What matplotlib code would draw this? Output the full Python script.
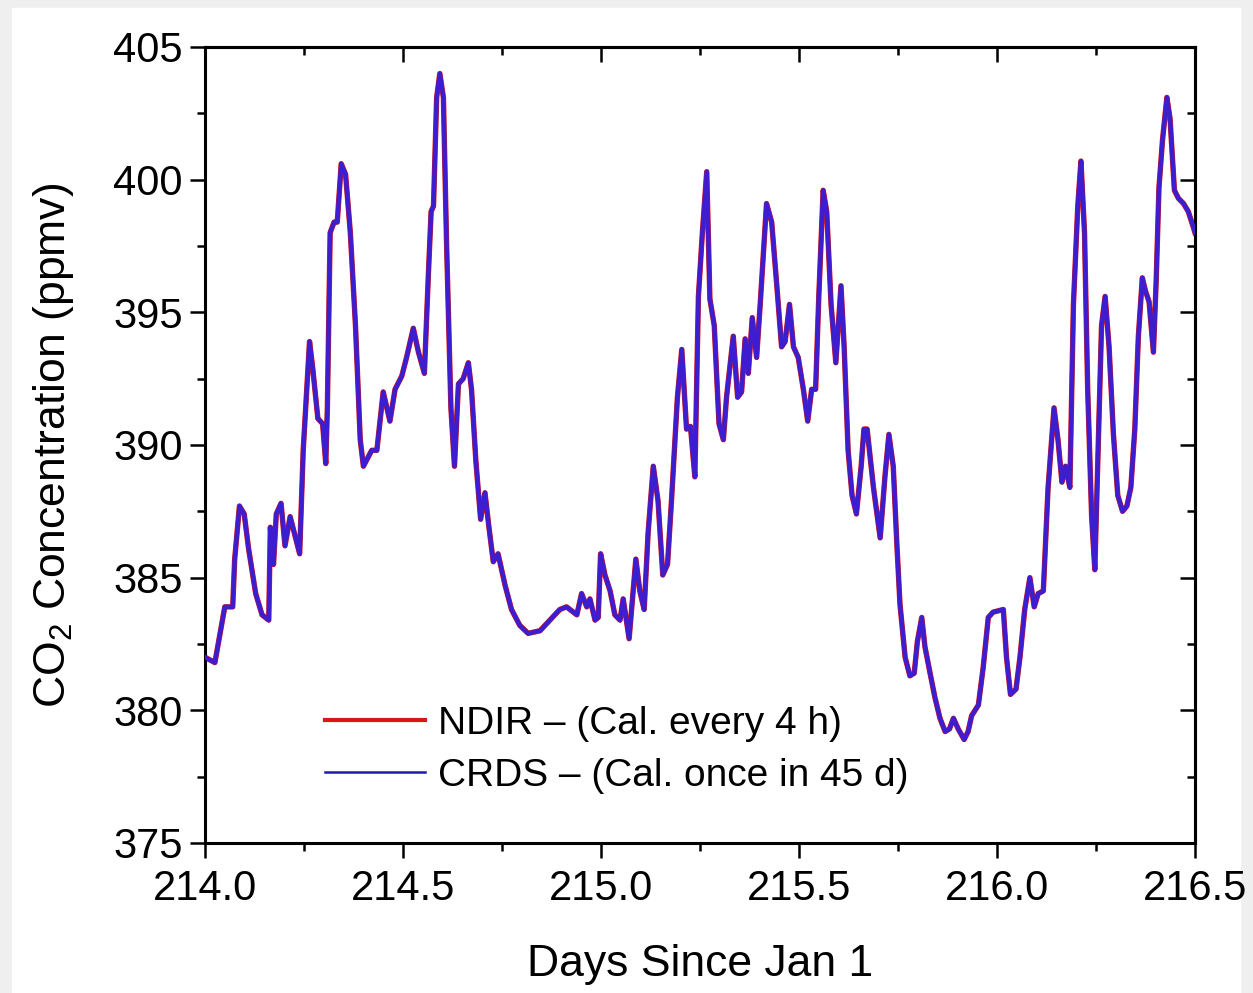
import matplotlib
matplotlib.use("Agg")
import matplotlib.pyplot as plt
from matplotlib.ticker import MultipleLocator, FormatStrFormatter
from matplotlib.patches import Rectangle

# Values (days since Jan 1, CO2 ppmv)
days = [
    214.000, 214.025, 214.050, 214.070, 214.075, 214.087, 214.099, 214.110, 214.128, 214.144,
    214.161, 214.165, 214.173, 214.180, 214.192, 214.202, 214.215, 214.227, 214.239, 214.248,
    214.264, 214.272, 214.285, 214.297, 214.305, 214.309, 214.316, 214.326, 214.334, 214.344,
    214.355, 214.367, 214.380, 214.392, 214.400, 214.421, 214.434, 214.450, 214.467, 214.480,
    214.497, 214.509, 214.526, 214.539, 214.554, 214.564, 214.571, 214.577, 214.585, 214.593,
    214.602, 214.610, 214.621, 214.630, 214.640, 214.652, 214.665, 214.673, 214.684, 214.696,
    214.707, 214.717, 214.728, 214.740, 214.758, 214.774, 214.795, 214.816, 214.846, 214.871,
    214.896, 214.913, 214.939, 214.951, 214.964, 214.972, 214.985, 214.993, 214.999, 215.010,
    215.023, 215.035, 215.048, 215.056, 215.071, 215.088, 215.098, 215.109, 215.119, 215.132,
    215.144, 215.156, 215.168, 215.178, 215.193, 215.204, 215.216, 215.226, 215.237, 215.246,
    215.256, 215.267, 215.275, 215.286, 215.298, 215.309, 215.317, 215.334, 215.345, 215.355,
    215.364, 215.372, 215.382, 215.393, 215.402, 215.418, 215.431, 215.444, 215.456, 215.465,
    215.476, 215.486, 215.498, 215.511, 215.522, 215.532, 215.542, 215.550, 215.561, 215.570,
    215.581, 215.593, 215.606, 215.614, 215.624, 215.634, 215.645, 215.657, 215.664, 215.672,
    215.688, 215.705, 215.717, 215.727, 215.738, 215.747, 215.755, 215.768, 215.780, 215.791,
    215.799, 215.810, 215.818, 215.831, 215.843, 215.856, 215.869, 215.880, 215.890, 215.902,
    215.917, 215.927, 215.936, 215.953, 215.965, 215.978, 215.990, 216.016, 216.024, 216.034,
    216.048, 216.058, 216.070, 216.083, 216.094, 216.104, 216.117, 216.129, 216.138, 216.144,
    216.154, 216.164, 216.173, 216.184, 216.193, 216.204, 216.212, 216.221, 216.229, 216.239,
    216.247, 216.256, 216.264, 216.273, 216.283, 216.294, 216.305, 216.317, 216.328, 216.338,
    216.348, 216.357, 216.367, 216.375, 216.384, 216.395, 216.402, 216.409, 216.418, 216.429,
    216.437, 216.448, 216.458, 216.471, 216.483, 216.496, 216.500,
]
crds_ppm = [
    382.0, 381.8, 383.9, 383.9, 385.7, 387.7, 387.4, 386.1, 384.4, 383.6,
    383.4, 386.9, 385.5, 387.4, 387.8, 386.2, 387.3, 386.6, 385.9, 389.8,
    393.9, 392.9, 391.0, 390.8, 389.3, 391.4, 398.0, 398.4, 398.4, 400.6,
    400.2, 398.0, 394.5, 390.2, 389.2, 389.8, 389.8, 392.0, 390.9, 392.1,
    392.6, 393.3, 394.4, 393.5, 392.7, 396.4, 398.8, 399.0, 403.1, 404.0,
    403.1, 397.6, 391.4, 389.2, 392.3, 392.5, 393.1, 392.1, 389.4, 387.2,
    388.2, 386.9, 385.6, 385.9, 384.7, 383.8, 383.2, 382.9, 383.0, 383.4,
    383.8, 383.9, 383.6, 384.4, 383.9, 384.2, 383.4, 383.5, 385.9, 385.1,
    384.5, 383.6, 383.4, 384.2, 382.7, 385.7, 384.5, 383.8, 386.7, 389.2,
    387.9, 385.1, 385.5, 387.9, 391.8, 393.6, 390.6, 390.7, 388.8, 395.6,
    398.0, 400.3, 395.5, 394.5, 390.8, 390.2, 391.8, 394.1, 391.8, 392.0,
    394.0, 392.7, 394.8, 393.3, 395.3, 399.1, 398.4, 396.0, 393.7, 393.9,
    395.3, 393.7, 393.3, 392.1, 390.9, 392.1, 392.1, 395.6, 399.6, 398.8,
    395.3, 393.1, 396.0, 393.7, 389.8, 388.1, 387.4, 389.2, 390.6, 390.6,
    388.4, 386.5, 388.8, 390.4, 389.2, 386.3, 384.0, 382.0, 381.3, 381.4,
    382.6, 383.5, 382.4, 381.4, 380.5, 379.7, 379.2, 379.3, 379.7, 379.3,
    378.9, 379.2, 379.8, 380.2, 381.6, 383.5, 383.7, 383.8, 382.0, 380.6,
    380.8, 382.0, 383.8, 385.0, 383.9, 384.4, 384.5, 388.4, 390.2, 391.4,
    390.2, 388.6, 389.2, 388.4, 395.3, 399.0, 400.7, 398.0, 392.1, 387.3,
    385.3, 390.2, 394.5, 395.6, 393.7, 390.4, 388.1, 387.5, 387.7, 388.4,
    390.6, 394.1, 396.3, 395.8, 395.4, 393.5, 396.2, 399.7, 401.5, 403.1,
    402.3, 399.6, 399.3, 399.1, 398.8, 398.2, 398.0,
]
# the NDIR trace lies on top of the CRDS trace everywhere in the picture
ndir_ppm = list(crds_ppm)

labels = ["NDIR \u2013 (Cal. every 4 h)", "CRDS \u2013 (Cal. once in 45 d)"]

plt.rcParams["font.family"] = ["Liberation Sans", "DejaVu Sans"]
plt.rcParams["mathtext.fontset"] = "custom"
plt.rcParams["mathtext.rm"] = "Liberation Sans"
plt.rcParams["mathtext.it"] = "Liberation Sans"

fig = plt.figure(figsize=(12.53, 9.93), dpi=100)
fig.patch.set_facecolor("#efefef")
fig.patches.append(Rectangle((12 / 1253, 0), 1228 / 1253, 985 / 993,
                             transform=fig.transFigure, color="white", zorder=-10))

ax = fig.add_axes([205 / 1253, 1 - 843 / 993, 990 / 1253, 796 / 993])
ax.patch.set_alpha(0)

ax.plot(days, ndir_ppm, color="#d81818", lw=3.9, label=labels[0], zorder=2)
ax.plot(days, crds_ppm, color="#3c1ed0", lw=3.2, label=labels[1], zorder=3)

ax.set_xlim(214.0, 216.5)
ax.set_ylim(375, 405)

for s in ax.spines.values():
    s.set_linewidth(2.2)

ax.xaxis.set_major_locator(MultipleLocator(0.5))
ax.xaxis.set_minor_locator(MultipleLocator(0.25))
ax.yaxis.set_major_locator(MultipleLocator(5))
ax.yaxis.set_minor_locator(MultipleLocator(2.5))
ax.xaxis.set_major_formatter(FormatStrFormatter("%.1f"))

ax.tick_params(which="major", direction="out", length=11, width=1.8, labelsize=30)
ax.tick_params(which="minor", direction="out", length=6, width=1.8)
ax.tick_params(axis="x", which="major", pad=8)
ax.tick_params(axis="y", which="major", pad=5)

# mirrored ticks pointing inward on top and right
top = ax.secondary_xaxis("top")
top.xaxis.set_major_locator(MultipleLocator(0.5))
top.xaxis.set_minor_locator(MultipleLocator(0.25))
top.tick_params(which="major", direction="in", length=11, width=1.8, labeltop=False)
top.tick_params(which="minor", direction="in", length=6, width=1.8)
top.spines["top"].set_linewidth(2.2)

right = ax.secondary_yaxis("right")
right.yaxis.set_major_locator(MultipleLocator(5))
right.yaxis.set_minor_locator(MultipleLocator(2.5))
right.tick_params(which="major", direction="in", length=11, width=1.8, labelright=False)
right.tick_params(which="minor", direction="in", length=6, width=1.8)
right.spines["right"].set_linewidth(2.2)

ax.set_xlabel("Days Since Jan 1", fontsize=32, labelpad=25)
ax.set_ylabel("CO$_2$ Concentration (ppmv)", fontsize=32, labelpad=27)

leg = ax.legend(loc="center left", bbox_to_anchor=(0.121, 0.117), frameon=False,
                borderpad=0, borderaxespad=0, handlelength=2.57, handletextpad=0.35,
                labelspacing=0.4, prop={"size": 28})
leg.get_lines()[0].set_linewidth(3.0)
leg.get_lines()[1].set_linewidth(1.8)
leg.get_lines()[1].set_color("#1c1ca8")

fig.savefig("out.png", dpi=100, facecolor=fig.get_facecolor())
